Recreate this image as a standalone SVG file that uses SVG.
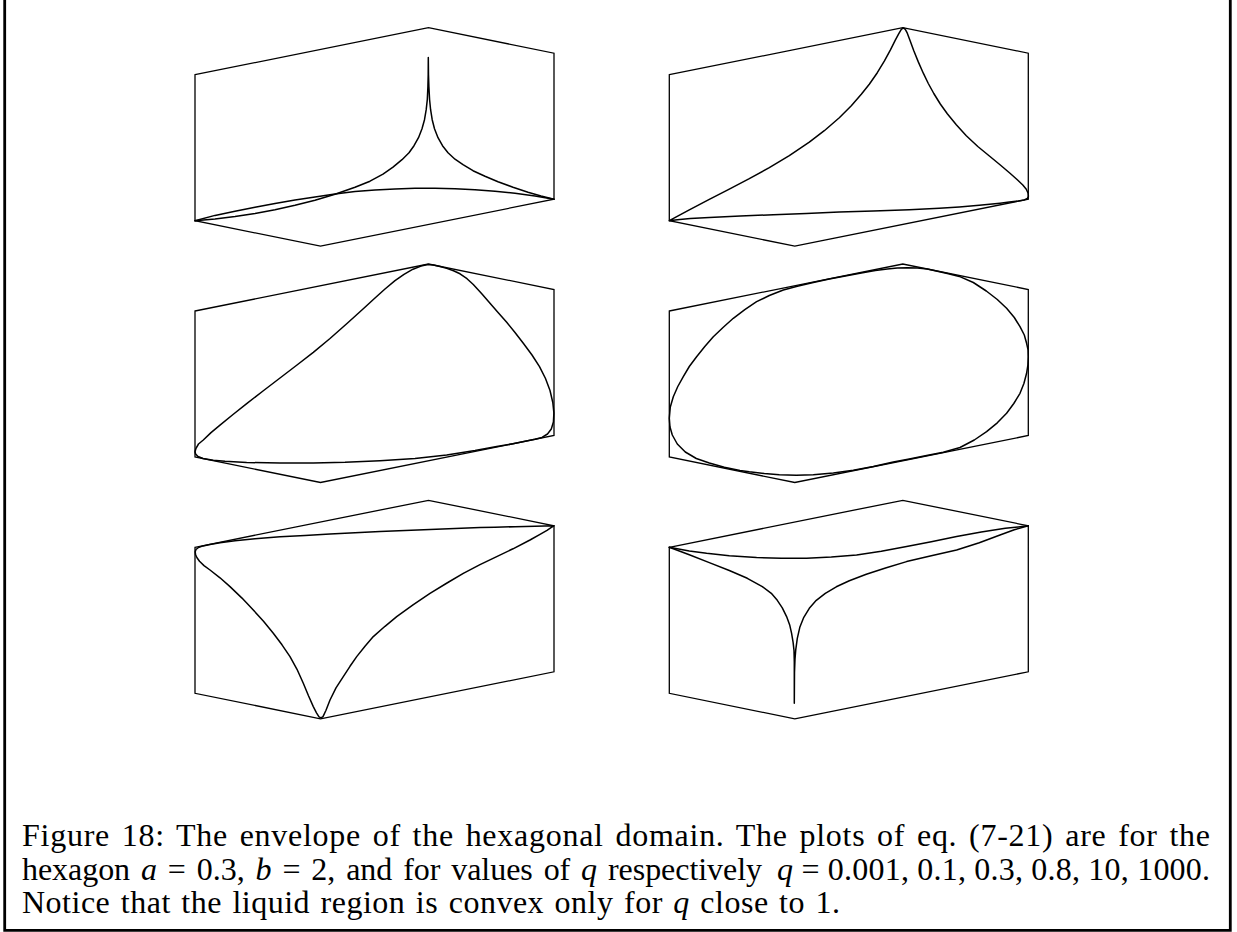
<svg xmlns="http://www.w3.org/2000/svg" width="1237" height="932" viewBox="0 0 1237 932">
<style>
.hex{fill:none;stroke:#000;stroke-width:1.3;stroke-linejoin:miter}
.env{fill:none;stroke:#000;stroke-width:1.5;stroke-linejoin:round;stroke-linecap:round}
.cap{font-family:"Liberation Serif","Times New Roman",serif;font-size:32px;fill:#000}
.m{font-style:italic}
</style>
<defs>
<path id="hex" class="hex" d="M0,0 L233.5,-47 L359,-21.5 L359,124.5 L125.5,171.5 L0,146 Z"/>
</defs>
<rect x="0" y="0" width="1237" height="932" fill="#fff"/>
<path id="frame" d="M4.7,-3 V930.3 H1230.3 V-3" fill="none" stroke="#000" stroke-width="2.8"/>

<g id="panel-q0001" transform="translate(195,74.7)">
<use href="#hex"/>
<path class="env" d="M0,146 L20,144.3 L40,141.8 L60,138.7 L80,135 L100,130.6 L120,125.5 L140,119.6 L160,112.6 L175,106.5 L188,99.5 L198,92.5 L207,85 L214,78 L219,71 L223.5,63 L227,54 L229.5,45 L231.2,35 L232.3,25 L232.9,12 L233.2,0 L233.3,-17.3 L233.5,0 L233.9,12 L234.6,25 L235.6,35 L237.2,45 L239.5,54 L243,63 L247.5,71 L253,78 L260,84.5 L268,90 L278,96 L290,101.5 L303,107 L318,112.5 L333,117.5 L346,121.3 L359,124.5"/>
<path class="env" d="M0,146 L20,140.7 L40,136.5 L60,132.5 L80,128.7 L100,125.2 L120,122.2 L140,119.4 L160,116.8 L180,115.3 L200,114.2 L220,113.6 L240,113.5 L260,113.95 L280,114.95 L300,116.5 L320,118.6 L340,121.4 L359,124.5"/>
</g>

<g id="panel-q01" transform="translate(669.3,74.7)">
<use href="#hex"/>
<path class="env" d="M0,146 L20,135.2 L40,124.6 L60,114.4 L80,104 L100,93 L120,81 L140,67.5 L155,56 L170,43 L182,31 L192,19.5 L200,9.5 L208,-2 L215,-13.5 L221,-24.5 L226,-34.5 L229.5,-41 L232,-45.3 L234,-46.8 L236,-45.3 L238,-41.5 L241,-33.5 L244.5,-24 L249,-12.8 L254,-1.5 L259,8.8 L264.5,18.8 L271,29.3 L278,39 L287,50 L297,61 L308.5,71.8 L320.7,81.8 L331,90.3 L340.7,98.6 L348,105 L353.5,110.3 L357,114.5 L358.8,118.5 L359.1,121.5 L358,123.8 L355,125.2 L349,126.3 L340,127.4 L330.7,128.5 L310,130.6 L290,132.3 L270,133.6 L240,135 L204,136.2 L170,137.4 L137,138.7 L104,140 L71,141.3 L40,142.7 L21,143.8 L8,145 L2,145.8 Z"/>
</g>

<g id="panel-q03" transform="translate(195,311)">
<use href="#hex"/>
<path class="env" d="M0,140.7 L1,137.3 L3.5,133 L8.3,129 L16,121.6 L25,114.2 L38,103.5 L51.7,92.6 L68,80 L85,67 L102,54 L118.3,41.3 L135,27.5 L151.7,12.8 L168.3,-2.3 L180,-13 L190,-22 L200,-30.3 L209,-36.7 L218,-41.8 L226,-44.9 L233,-46.4 L238.5,-46 L245,-44.4 L251.7,-42.6 L258.5,-40.3 L265,-37.2 L272,-32.3 L278.3,-26.5 L287,-17 L295,-7.7 L303.5,1.9 L311.7,11.3 L320,21.5 L328.3,32.3 L337,44 L344.5,55.7 L350.5,67.5 L355,79.5 L357.8,91.5 L358.9,102 L358.4,111 L356.3,118 L352.5,123 L347,126.4 L340,128.2 L335,129.2 L318,132.8 L301.7,135.5 L280,139.5 L251.7,144 L220,147.5 L185,149.7 L150,151.3 L118.3,152 L85,152 L51.7,151.5 L30,150.3 L18.3,149.2 L8,147.5 L3,145.5 L0.6,143 Z"/>
</g>

<g id="panel-q08" transform="translate(669.3,311)">
<use href="#hex"/>
<path class="env" d="M0,107.3 L1,96 L4,85.7 L8.5,75.5 L14,65.7 L20,55.5 L27.3,45.7 L35.5,35.5 L44,25.7 L54,16.2 L64,7.3 L75.5,-1.3 L87.3,-9.3 L100,-15.5 L114,-21 L128,-24.8 L144,-28.6 L160,-32 L176,-35 L192,-38 L206,-40.4 L218,-42 L228,-43 L238,-43.3 L248,-43 L258,-42 L268,-39.8 L278,-37.6 L290,-34.6 L304,-28.5 L317,-20 L328,-11.5 L337.3,-2.7 L345,6.5 L350.7,15.7 L355,24 L357.3,32.3 L358.8,39 L359,45.7 L358.6,54 L357.3,62.3 L354.6,72.5 L350.7,82.3 L344.5,92.5 L337.3,102.3 L328,111.8 L317.3,120.7 L305,129 L290.7,136.5 L274,141.2 L257.3,144.6 L240,148 L224,151 L204,155.5 L184,159.3 L164,162 L144,163.8 L127,164.3 L110,163.8 L95,162.5 L80,160.8 L70.7,159.5 L55,156.3 L40,152 L27,147.5 L16,141 L8,133 L3,124 L0.7,116 Z"/>
</g>

<g id="panel-q10" transform="translate(195,547.3)">
<use href="#hex"/>
<path class="env" d="M359,-21.5 L340,-21.1 L320,-20.6 L300,-20.1 L285,-19.7 L260,-18.8 L235,-17.8 L210,-16.8 L185,-15.7 L160,-14.6 L135,-13.3 L110,-11.9 L85,-10.5 L60,-8.6 L40,-6.6 L25,-4.6 L15,-2.9 L8,-1.4 L3.5,0.2 L1,2.2 L0.2,4.5 L0.6,7.5 L2,10.5 L4.5,14 L9,18.3 L15,22.7 L25,30.5 L35,39.3 L47,50.8 L58.3,62.7 L68.5,74 L78.3,86 L87,97.5 L95,109.3 L102,122 L108.3,136 L113.5,148.5 L118.3,159.3 L121.5,165.5 L124,169.5 L126,170.6 L128,169.3 L131,163 L135,152.7 L141,140.5 L148.3,129.3 L155,119 L161.7,109.3 L170,99 L178.3,89.3 L190,79 L201.7,69.3 L218,57.5 L235,46 L252,35.7 L268.3,26 L285,17.3 L301.7,9.3 L318,1.5 L335,-7.3 L345,-13 L352,-17 L356,-19.6 L359,-21.5"/>
</g>

<g id="panel-q1000" transform="translate(669.3,547.3)">
<use href="#hex"/>
<path class="env" d="M0,0 L20,3.6 L37.3,6 L60,8.4 L87.3,10.3 L112,11 L137.3,11 L162,9.8 L187.3,7.7 L212,4 L237.3,-0.7 L262,-5.5 L287.3,-10.7 L312,-15.3 L336,-19 L359,-21.5"/>
<path class="env" d="M0,0 L20,7.5 L40,15.3 L60,23.2 L78,31 L93,39.3 L102,46 L108,53 L113,60.5 L117.3,69.3 L120.5,78 L122.3,86 L123.8,95 L124.7,103 L125,115 L125,156 L125.2,125 L125.7,112 L126.5,102 L128,91 L130.5,80 L134.5,70 L140,61 L147,53 L156,46 L167,39.5 L180,33.5 L197,27 L217,20.5 L237.3,14.3 L262,8.5 L287.3,2.7 L310,-4.5 L330.7,-12.3 L345,-17.5 L359,-21.5"/>
</g>

<g id="caption" class="cap">
<text x="22" y="846" word-spacing="3" textLength="1188" lengthAdjust="spacing">Figure 18: The envelope of the hexagonal domain. The plots of eq. (7-21) are for the</text>
<text x="22" y="879.5" word-spacing="3" textLength="740" lengthAdjust="spacing">hexagon <tspan class="m">a</tspan> = 0.3, <tspan class="m">b</tspan> = 2, and for values of <tspan class="m">q</tspan> respectively</text>
<text x="777" y="879.5" textLength="433" lengthAdjust="spacing"><tspan class="m">q</tspan> = 0.001, 0.1, 0.3, 0.8, 10, 1000.</text>
<text x="22" y="913" word-spacing="2" textLength="818" lengthAdjust="spacing">Notice that the liquid region is convex only for <tspan class="m">q</tspan> close to 1.</text>
</g>
</svg>
